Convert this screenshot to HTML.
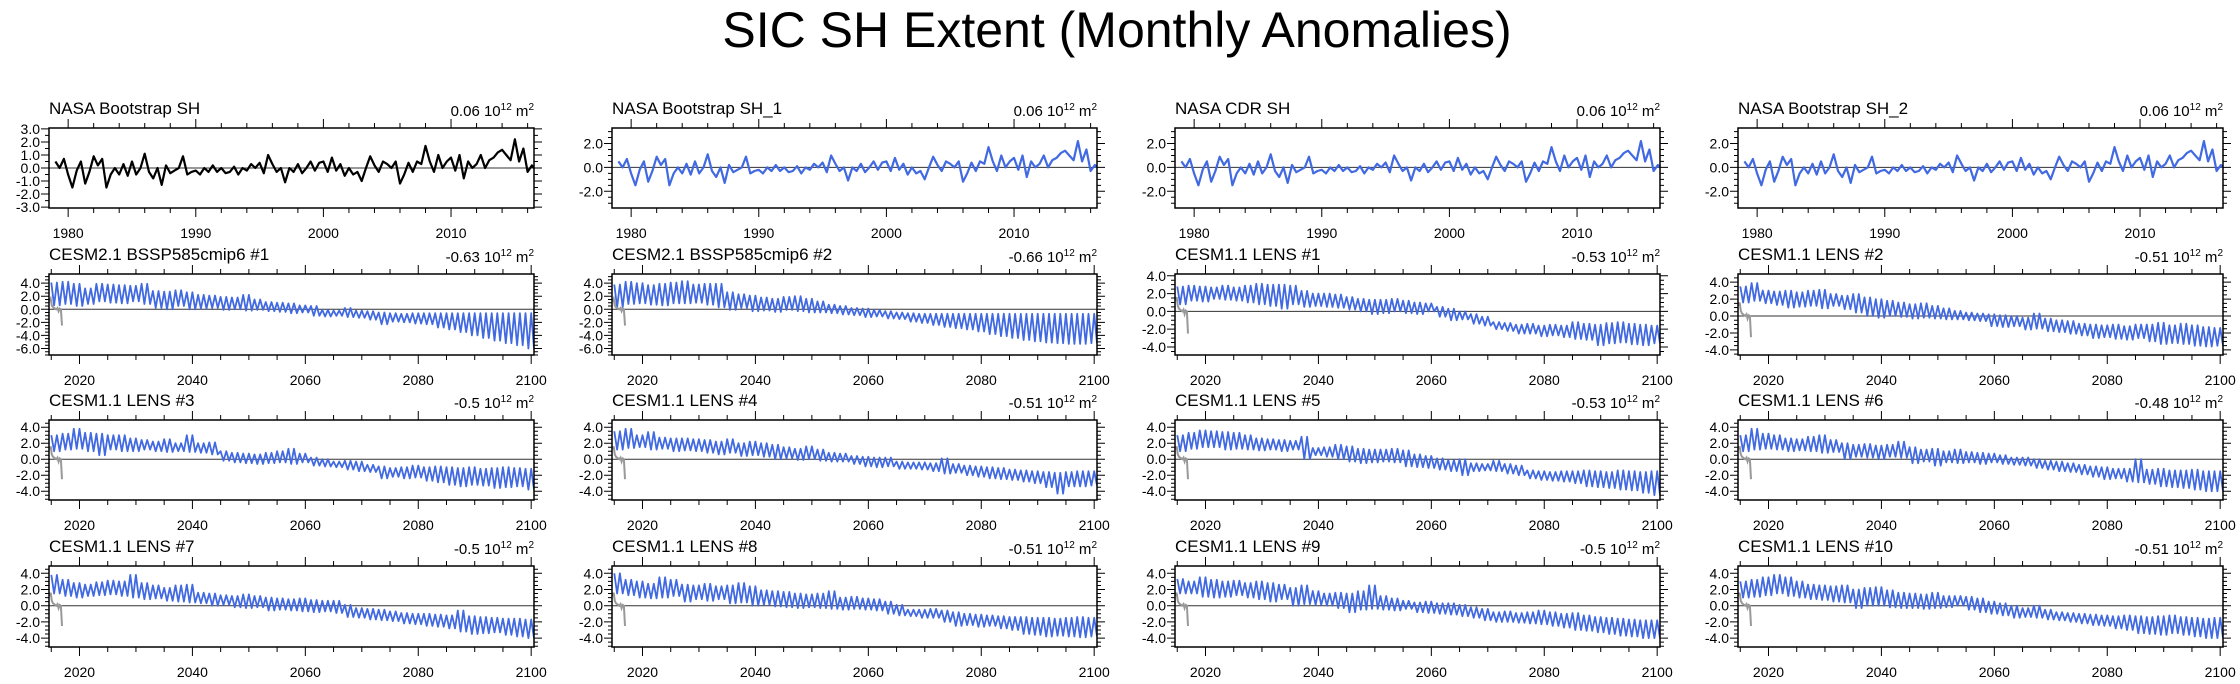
<!DOCTYPE html>
<html><head><meta charset="utf-8"><title>SIC SH Extent (Monthly Anomalies)</title>
<style>
html,body{margin:0;padding:0;background:#fff;}
svg{display:block;font-family:"Liberation Sans",Arial,sans-serif;}
</style></head>
<body>
<svg id="chart" width="2240" height="684" viewBox="0 0 2240 684" xmlns="http://www.w3.org/2000/svg">
<rect x="0" y="0" width="2240" height="684" fill="#fff"/>
<text x="1117" y="47" font-size="50" text-anchor="middle" fill="#000">SIC SH Extent (Monthly Anomalies)</text>
</svg>
<script>
// Observational anomalies, 3 readings per year starting 1979
const obsValues = [0.5,0.0,0.7,-0.5,-1.5,-0.2,0.5,-1.2,-0.3,0.9,0.2,0.7,-1.5,-0.5,0.0,-0.5,0.3,-0.6,0.5,-0.5,0.0,1.1,-0.3,-0.8,0.0,-1.3,0.2,-0.4,-0.2,0.0,0.9,-0.5,-0.3,-0.2,-0.5,0.0,-0.3,0.2,-0.3,0.0,-0.4,-0.3,0.1,-0.5,0.0,-0.2,0.3,0.0,0.4,-0.4,1.0,0.3,-0.3,0.0,-1.1,0.0,-0.3,0.3,-0.4,0.0,0.5,-0.2,0.4,0.5,-0.3,0.8,-0.2,0.3,-0.6,0.0,-0.5,-0.3,-1.0,0.0,0.9,0.2,-0.3,0.5,0.3,0.0,0.5,-1.2,-0.5,0.4,-0.3,0.5,0.3,1.7,0.5,-0.3,1.0,0.0,0.5,0.8,-0.2,1.0,-0.8,0.5,0.0,0.3,1.0,0.0,0.6,0.8,1.2,1.4,1.0,0.6,2.2,0.5,1.5,-0.3,0.2,-0.2];
const obsStartYear = 1979;
// Gray short line at start of model panels (values every 0.2 yr from 2014.7)
const grayValues = [1.2,1.6,0.6,0.3,0.2,0.1,0.0,0.2,-0.3,0.1,0.0,-2.5];
const grayStartYear = 2014.7;
// Model series: seasonal highs / lows every 2 years starting 2015
const modelStartYear = 2015;
const hi1 = [4.1,4.2,3.9,3.2,3.9,3.8,3.7,3.6,3.9,2.8,2.7,2.9,2.6,2.2,2.1,1.9,1.8,2.2,1.5,1.1,1.0,0.9,0.6,0.5,-0.1,-0.2,0.2,-0.2,-0.3,-0.5,-0.6,-0.7,-0.6,-0.6,-0.6,-0.6,-0.6,-0.6,-0.6,-0.6,-0.6,-0.6,-0.6];
const lo1 = [0.6,0.8,0.5,0.8,1.2,1.0,0.9,1.2,0.8,0.2,0.0,0.5,0.0,0.1,0.2,-0.1,0.0,-0.2,-0.1,-0.3,-0.4,-0.6,-0.5,-1.0,-1.1,-1.0,-1.2,-1.3,-1.6,-2.3,-1.9,-2.0,-2.2,-2.3,-2.8,-3.1,-3.5,-4.0,-4.4,-4.8,-5.2,-5.5,-6.0];
const hi2 = [3.8,4.2,4.0,3.7,3.9,4.1,4.3,3.8,3.9,3.9,2.6,2.3,2.1,1.8,1.6,1.9,2.0,1.6,1.2,0.7,0.5,0.2,0.1,-0.1,-0.3,-0.5,-0.6,-0.7,-0.7,-0.7,-0.7,-0.7,-0.7,-0.7,-0.7,-0.7,-0.7,-0.7,-0.7,-0.7,-0.7,-0.7,-0.7];
const lo2 = [0.3,0.8,0.9,0.7,0.6,0.9,0.9,1.0,0.7,0.3,-0.1,0.2,-0.3,-0.2,-0.4,-0.1,-0.3,-0.5,-0.5,-0.6,-0.8,-0.9,-1.2,-1.1,-1.4,-1.5,-1.9,-2.1,-2.4,-2.7,-2.9,-3.1,-3.4,-3.8,-4.1,-4.4,-4.7,-4.9,-5.1,-5.2,-5.3,-5.3,-5.2];
const hi3 = [2.8,2.9,2.8,2.7,2.9,2.7,2.9,3.1,3.0,3.0,2.9,2.3,2.0,2.0,1.9,1.6,1.4,1.3,1.3,1.4,1.2,1.0,0.9,0.5,0.3,0.0,-0.3,-0.6,-1.2,-1.3,-1.5,-1.4,-1.6,-1.5,-1.6,-1.2,-1.4,-1.5,-1.3,-1.2,-1.4,-1.5,-1.6];
const lo3 = [0.8,1.2,1.1,1.4,1.3,1.2,1.0,0.8,0.6,0.3,0.8,0.5,0.6,0.5,0.4,0.2,0.0,-0.3,-0.2,0.0,-0.2,-0.3,0.0,-0.6,-1.0,-0.9,-1.4,-1.6,-2.0,-2.2,-2.5,-2.5,-2.8,-2.7,-2.9,-3.1,-3.2,-3.8,-3.6,-3.5,-3.7,-3.8,-3.6];
const hi4 = [3.5,3.9,3.0,2.9,3.0,2.8,3.0,3.1,2.6,2.4,2.6,2.2,2.0,1.8,1.6,1.4,1.5,1.2,0.9,0.6,0.4,0.3,0.2,0.1,0.0,-0.2,0.3,-0.3,-0.5,-0.6,-0.9,-1.0,-1.1,-1.0,-1.2,-1.0,-1.0,-0.8,-1.1,-0.9,-1.1,-1.3,-1.4];
const lo4 = [1.6,1.8,1.5,1.3,1.0,1.1,1.2,0.9,1.2,0.8,0.4,0.0,-0.2,0.0,-0.1,-0.3,-0.2,-0.3,-0.4,-0.4,-0.5,-0.6,-1.2,-1.3,-1.2,-1.6,-1.5,-1.8,-1.9,-2.1,-2.3,-2.6,-2.5,-2.7,-2.8,-2.6,-3.0,-3.3,-3.2,-3.3,-3.5,-3.6,-3.5];
const hi5 = [3.0,3.2,3.8,3.3,3.2,3.0,3.0,2.6,2.4,2.2,2.5,2.0,3.0,2.0,2.1,1.0,0.8,0.7,0.6,0.8,1.0,1.3,0.7,0.2,0.0,-0.3,-0.2,-0.3,-0.7,-0.9,-1.1,-1.0,-0.8,-1.0,-0.9,-1.0,-1.1,-1.0,-1.2,-1.1,-1.0,-1.1,-1.2];
const lo5 = [1.0,1.2,1.3,1.0,0.5,1.2,1.0,1.0,1.2,1.0,0.9,1.0,0.9,0.8,0.6,-0.2,-0.4,-0.5,-0.6,-0.5,-0.4,-0.6,-0.4,-0.8,-0.9,-1.0,-1.3,-1.5,-1.6,-2.4,-2.2,-2.4,-2.3,-2.7,-2.9,-3.2,-3.4,-3.2,-3.3,-3.6,-3.5,-3.4,-3.8];
const hi6 = [3.5,3.8,3.0,3.4,2.7,2.6,2.6,2.5,2.4,2.2,2.5,2.0,2.2,2.0,1.8,1.5,1.3,1.6,1.2,0.8,0.7,0.4,0.3,0.2,0.2,-0.3,-0.4,-0.4,-0.5,0.1,-0.6,-0.8,-0.9,-1.0,-1.1,-1.3,-1.4,-1.5,-1.6,-1.7,-1.6,-1.5,-1.5];
const lo6 = [1.2,1.4,1.5,1.2,1.3,1.0,1.1,1.0,0.8,0.6,0.8,0.4,0.5,0.3,0.0,0.1,-0.1,0.0,-0.2,-0.3,-0.3,-0.6,-0.9,-1.0,-0.9,-1.2,-1.2,-1.3,-1.5,-1.8,-1.7,-2.0,-2.2,-2.4,-2.5,-2.6,-2.8,-3.0,-3.5,-4.3,-3.4,-3.4,-3.3];
const hi7 = [3.0,3.3,3.6,3.5,3.4,3.3,3.0,2.6,2.5,2.4,2.3,2.8,1.4,1.5,1.8,1.6,1.3,1.2,1.2,1.3,1.1,0.6,0.4,0.1,-0.1,0.0,-0.5,-0.6,-0.2,-0.6,-0.8,-1.4,-1.5,-1.6,-1.5,-1.5,-1.4,-1.5,-1.6,-1.4,-1.5,-1.6,-1.5];
const lo7 = [1.0,1.3,1.5,1.5,1.2,1.3,1.2,1.1,1.2,1.0,1.2,0.0,0.5,0.3,0.0,-0.3,-0.5,-0.4,-0.3,-0.4,-0.9,-1.0,-1.1,-1.3,-1.5,-2.0,-1.5,-1.4,-1.5,-1.8,-2.0,-2.4,-2.6,-2.7,-2.8,-3.0,-3.4,-3.5,-3.6,-3.8,-3.9,-4.2,-4.5];
const hi8 = [3.0,3.8,3.2,3.0,2.6,2.5,2.8,3.0,2.4,2.0,1.8,1.9,1.7,1.8,2.2,1.5,1.2,1.3,1.0,1.2,0.9,0.8,0.7,0.5,0.2,0.2,0.0,-0.2,-0.3,-0.5,-0.7,-0.9,-1.0,-1.2,-1.2,0.0,-1.3,-1.2,-1.4,-1.4,-1.3,-1.5,-1.5];
const lo8 = [1.0,1.2,1.3,1.2,1.0,1.1,1.0,0.8,0.9,0.0,0.3,0.2,0.0,0.3,0.2,-0.5,-0.3,-0.8,-0.4,-0.5,-0.4,-0.6,-0.4,-0.6,-0.7,-0.8,-1.1,-1.3,-1.5,-1.6,-1.9,-2.2,-2.5,-2.4,-2.8,-2.9,-3.1,-3.4,-3.5,-3.6,-3.8,-4.0,-4.0];
const hi9 = [3.8,3.2,2.8,2.6,2.9,3.1,3.0,3.8,2.8,2.5,2.2,2.5,2.6,1.6,1.5,1.3,1.2,1.4,1.2,1.0,0.9,0.8,0.9,0.7,0.6,0.6,0.1,-0.3,-0.4,-0.5,-0.7,-0.9,-1.0,-1.0,-1.1,-1.2,-0.6,-1.3,-1.4,-1.5,-1.6,-1.6,-1.7];
const lo9 = [1.5,1.2,1.0,1.2,1.3,1.4,1.2,1.0,0.8,0.9,0.6,0.5,0.4,0.3,0.0,0.1,-0.2,-0.3,-0.2,-0.6,-0.5,-0.6,-0.7,-0.8,-0.7,-0.9,-1.4,-1.5,-1.7,-1.8,-1.9,-2.2,-2.3,-2.5,-2.6,-2.8,-3.2,-3.5,-3.4,-3.3,-3.6,-3.8,-4.0];
const hi10 = [4.0,3.2,3.0,2.7,3.5,3.2,2.6,2.5,2.7,2.4,2.5,2.8,2.4,1.9,1.8,1.7,1.5,1.4,1.5,1.8,1.0,1.1,0.9,0.8,0.5,0.1,-0.5,-0.5,-0.4,-0.6,-0.8,-1.0,-1.1,-1.2,-1.3,-1.4,-1.4,-1.5,-1.5,-1.6,-1.5,-1.4,-1.5];
const lo10 = [1.5,1.3,1.0,0.9,1.0,1.2,0.5,0.8,0.6,0.8,0.3,0.4,0.0,0.1,-0.1,-0.2,-0.3,-0.2,-0.3,-0.4,-0.5,-0.4,-0.5,-0.6,-1.0,-1.2,-1.3,-1.5,-1.5,-2.0,-2.5,-2.4,-2.6,-2.5,-2.8,-3.0,-3.5,-3.6,-3.8,-3.7,-3.8,-3.9,-3.8];
const hi11 = [3.3,3.0,3.5,3.2,3.0,3.1,2.8,3.0,2.8,2.6,2.2,2.5,1.8,1.5,1.6,1.5,1.8,2.5,1.2,0.9,0.6,0.4,0.5,0.3,0.3,0.1,-0.2,-0.4,-0.8,-0.7,-0.9,-0.8,-0.6,-0.8,-1.0,-0.9,-1.2,-1.4,-1.5,-1.6,-1.7,-1.8,-1.8];
const lo11 = [1.5,1.5,1.1,1.0,1.1,1.3,1.0,0.8,0.5,0.8,0.0,0.2,0.1,0.0,-0.3,-0.8,-0.5,-0.4,-0.5,-0.6,-0.4,-0.8,-0.9,-1.0,-1.1,-1.3,-1.5,-1.8,-2.0,-2.0,-2.1,-2.2,-2.3,-2.5,-2.7,-3.0,-3.1,-3.3,-3.5,-3.7,-3.8,-4.0,-4.0];
const hi12 = [3.0,3.2,3.5,3.8,3.5,3.0,2.6,2.5,2.4,2.5,2.0,2.2,2.3,1.9,1.6,1.5,1.4,1.6,1.2,1.2,1.1,0.9,0.5,0.3,0.0,-0.3,0.0,-0.5,-0.8,-0.9,-1.0,-1.1,-1.2,-1.3,-1.2,-1.3,-1.4,-1.3,-1.2,-1.4,-1.5,-1.6,-1.5];
const lo12 = [1.0,1.1,1.3,1.5,1.2,1.0,0.8,0.7,0.5,0.4,-0.3,0.0,0.0,-0.2,-0.3,-0.3,-0.4,-0.3,-0.2,0.0,-0.5,-0.8,-1.0,-1.2,-1.5,-1.4,-1.5,-1.7,-1.8,-2.0,-2.2,-2.4,-2.5,-2.8,-3.0,-3.4,-3.5,-3.6,-3.4,-3.6,-3.8,-4.0,-4.0];
const panelTitles = ["NASA Bootstrap SH","NASA Bootstrap SH_1","NASA CDR SH","NASA Bootstrap SH_2","CESM2.1 BSSP585cmip6 #1","CESM2.1 BSSP585cmip6 #2","CESM1.1 LENS #1","CESM1.1 LENS #2","CESM1.1 LENS #3","CESM1.1 LENS #4","CESM1.1 LENS #5","CESM1.1 LENS #6","CESM1.1 LENS #7","CESM1.1 LENS #8","CESM1.1 LENS #9","CESM1.1 LENS #10"];
const panelUnits = ["0.06","0.06","0.06","0.06","-0.63","-0.66","-0.53","-0.51","-0.5","-0.51","-0.53","-0.48","-0.5","-0.51","-0.5","-0.51"];
const obsYTicks1 = [3,2,1,0,-1,-2,-3];
const obsYTicks2 = [2,0,-2];
const modelYTicksA = [4,2,0,-2,-4,-6];
const modelYTicksB = [4,2,0,-2,-4];
const obsXTicks = [1980,1990,2000,2010];
const modelXTicks = [2020,2040,2060,2080,2100];
const modelHi = [hi1,hi2,hi3,hi4,hi5,hi6,hi7,hi8,hi9,hi10,hi11,hi12];
const modelLo = [lo1,lo2,lo3,lo4,lo5,lo6,lo7,lo8,lo9,lo10,lo11,lo12];

const NS = "http://www.w3.org/2000/svg";
const svg = document.getElementById("chart");
function mk(tag, attrs, parent){const e=document.createElementNS(NS,tag);for(const k in attrs)e.setAttribute(k,attrs[k]);(parent||svg).appendChild(e);return e;}

const colLeft=[49,612,1175,1738], boxW=485;
const rowTop=[128,274,420,566], rowBot=[208,355,500,647];

for(let p=0;p<16;p++){
  const col=p%4,row=Math.floor(p/4);
  const x0=colLeft[col],x1=x0+boxW,y0=rowTop[row],y1=rowBot[row];
  const isObs=row===0;
  let xmin,xmax,ymin,ymax,yt,xt,xminor,yminor;
  if(isObs){xmin=1978.5;xmax=2016.5;xt=obsXTicks;xminor=2;
    if(col===0){ymin=-3.07;ymax=3.07;yt=obsYTicks1;yminor=0.5;}else{ymin=-3.4;ymax=3.3;yt=obsYTicks2;yminor=0.5;}}
  else{xmin=2014.6;xmax=2100.5;xt=modelXTicks;xminor=5;
    if(row===1&&col<2){ymin=-7.0;ymax=5.4;yt=modelYTicksA;}
    else if(row===1&&col===2){ymin=-4.9;ymax=4.2;yt=modelYTicksB;}
    else if(row===1){ymin=-4.6;ymax=4.96;yt=modelYTicksB;}
    else{ymin=-5.1;ymax=4.9;yt=modelYTicksB;}
    yminor=0.5;}
  const sx=v=>x0+(v-xmin)/(xmax-xmin)*boxW;
  const sy=v=>y1-(v-ymin)/(ymax-ymin)*(y1-y0);
  const g=mk("g",{});
  
  
  const t=mk("text",{x:x0,y:y0-14,"font-size":17,fill:"#000"},g);
  
  
  t.textContent=panelTitles[p];
  const u=mk("text",{x:x1,y:y0-12,"font-size":15,fill:"#000","text-anchor":"end"},g);
  
  
  u.innerHTML=panelUnits[p]+' 10<tspan dy="-6" font-size="10">12</tspan><tspan dy="6"> m</tspan><tspan dy="-6" font-size="10">2</tspan>';
  const cp=mk("clipPath",{id:"c"+p},g);mk("rect",{x:x0,y:y0,width:boxW,height:y1-y0},cp);
  const z=mk("line",{x1:x0,x2:x1,y1:sy(0),y2:sy(0),stroke:"#333","stroke-width":1},g);
  
  
  let pts=[];
  if(isObs){obsValues.forEach((v,k)=>pts.push(sx(obsStartYear+k/3).toFixed(1)+","+sy(v).toFixed(1)));}
  else{
    const hi=modelHi[p-4],lo=modelLo[p-4];
    for(let i=0;i<hi.length;i++){const yr=modelStartYear+2*i;
      pts.push(sx(yr).toFixed(1)+","+sy(hi[i]).toFixed(1));
      pts.push(sx(yr+0.5).toFixed(1)+","+sy(lo[i]).toFixed(1));
      pts.push(sx(yr+1).toFixed(1)+","+sy(hi[i]).toFixed(1));
      pts.push(sx(yr+1.5).toFixed(1)+","+sy(lo[i]).toFixed(1));}
  }
  const sl=mk("polyline",{points:pts.join(" "),fill:"none",stroke:(p===0?"#000":"#4169e1"),"stroke-width":(isObs?2.2:1.8),"stroke-linejoin":"round","clip-path":"url(#c"+p+")"},g);
  
  
  if(!isObs){
    const gp=grayValues.map((v,k)=>sx(grayStartYear+k*0.2).toFixed(1)+","+sy(v).toFixed(1));
    const gl=mk("polyline",{points:gp.join(" "),fill:"none",stroke:"#999","stroke-width":2,"clip-path":"url(#c"+p+")"},g);
    
    
  }
  const b=mk("rect",{x:x0,y:y0,width:boxW,height:y1-y0,fill:"none",stroke:"#000","stroke-width":1.5},g);
  
  
  let d="";
  const xs=Math.ceil(xmin/xminor)*xminor;
  for(let v=xs;v<=xmax;v+=xminor){const X=sx(v);const major=xt.includes(v);const L=major?9:5;
    d+=`M${X},${y0}v${-L}M${X},${y1}v${L}`;}
  for(let v=Math.ceil(ymin/yminor)*yminor;v<=ymax;v+=yminor){const Y=sy(v);const major=yt.some(q=>Math.abs(q-v)<1e-6);const L=major?8:4;
    d+=`M${x0},${Y}h${-L}M${x1},${Y}h${L}`;}
  const tk=mk("path",{d:d,stroke:"#000","stroke-width":1,fill:"none"},g);
  
  
  xt.forEach(v=>{const l=mk("text",{x:sx(v),y:y1+30,"font-size":14,"text-anchor":"middle",fill:"#000"},g);
    
    
    l.textContent=v;});
  yt.forEach(v=>{const l=mk("text",{x:x0-9,y:sy(v)+5,"font-size":14,"text-anchor":"end",fill:"#000"},g);
    
    
    l.textContent=v.toFixed(1);});
}
</script>
</body></html>
